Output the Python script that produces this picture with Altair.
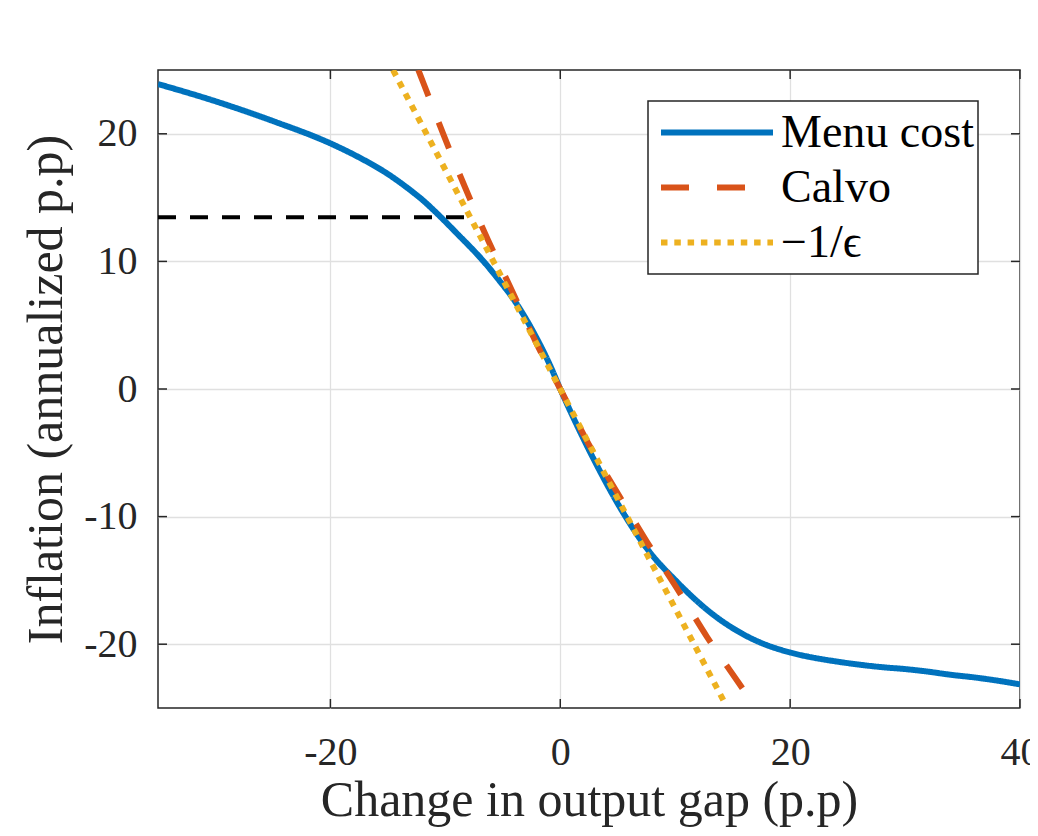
import altair as alt
import pandas as pd

# ---- data ----
menu_x = [-35, -30, -25, -20, -17.5, -15, -13, -11.9, -11, -9, -6.67, -5.3, -4.06, -2.32, -0.87, 0,
          1.74, 3.19, 5.51, 7.54, 10.14, 13.33, 15.2, 17.1, 20,
          22, 24, 26, 28, 30, 32, 34, 36, 38, 40]
menu_y = [23.9, 22.55, 21.0, 19.25, 18.15, 16.85, 15.55, 14.75, 14.0, 12.2, 10.0, 8.5, 7.03, 4.43, 1.82, 0,
          -3.38, -5.99, -9.75, -12.5, -15.1, -17.7, -18.85, -19.75, -20.65,
          -21.05, -21.35, -21.6, -21.8, -21.95, -22.15, -22.4, -22.6, -22.85, -23.15]

calvo_x = [-12.35, -11.9, -10.1, -8.26, -6.3, -4.2, -2.03, 0, 2.46, 4.93, 7.54, 10.14, 12.75, 15.5, 16.26]
calvo_y = [25.0, 23.96, 19.8, 15.75, 11.7, 7.7, 3.5, 0, -4.3, -8.07, -11.98, -15.6, -19.4, -23.0, -24.0]

eps_x = [-14.55, 14.4]
eps_y = [25.0, -24.75]

ref_x = [-35, -8]
ref_y = [13.46, 13.46]

series_names = ["Menu cost", "Calvo", "\u22121/\u03f5"]
series_colors = ["#0072BD", "#D95319", "#EDB120"]
series_dash = [[1, 0], [28, 28], [6.5, 6.8]]

x_ticks = [-20, 0, 20, 40]
y_ticks = [-20, -10, 0, 10, 20]
x_domain = [-35, 40]
y_domain = [-25, 25]

FONT = "Liberation Serif"
W, H = 862, 638
TXT = "#262626"
HYPHEN = "replace(datum.label, '\u2212', '-')"

rows = []
for name, xs, ys in [(series_names[0], menu_x, menu_y),
                     (series_names[1], calvo_x, calvo_y),
                     (series_names[2], eps_x, eps_y)]:
    for i, (a, b) in enumerate(zip(xs, ys)):
        rows.append({"series": name, "x": a, "y": b, "order": i})
df = pd.DataFrame(rows)
ref_df = pd.DataFrame({"x": ref_x, "y": ref_y})
xt_df = pd.DataFrame({"v": x_ticks})
yt_df = pd.DataFrame({"v": y_ticks})

xscale = alt.Scale(domain=x_domain, nice=False, zero=False)
yscale = alt.Scale(domain=y_domain, nice=False, zero=False)

x_axis = alt.Axis(values=x_ticks, title="Change in output gap (p.p)", tickSize=0,
                  labelPadding=24, titlePadding=3, domain=False, grid=True,
                  labelFontSize=40, titleFontSize=50, labelFont=FONT, titleFont=FONT,
                  labelColor=TXT, titleColor=TXT, titleFontWeight="normal",
                  gridColor="#e0e0e0", gridWidth=1.3, labelFlush=False, labelExpr=HYPHEN)
y_axis = alt.Axis(values=y_ticks, title="Inflation (annualized p.p)", tickSize=0,
                  labelPadding=21, titlePadding=12, domain=False, grid=True,
                  labelFontSize=40, titleFontSize=50, labelFont=FONT, titleFont=FONT,
                  labelColor=TXT, titleColor=TXT, titleFontWeight="normal",
                  gridColor="#e0e0e0", gridWidth=1.3, labelExpr=HYPHEN)

def X(field):
    return alt.X(field, scale=xscale, axis=x_axis)

def Y(field):
    return alt.Y(field, scale=yscale, axis=y_axis)

color_enc = alt.Color("series:N", scale=alt.Scale(domain=series_names, range=series_colors),
                      legend=alt.Legend(title=None))
dash_enc = alt.StrokeDash("series:N", scale=alt.Scale(domain=series_names, range=series_dash),
                          legend=alt.Legend(title=None))

base = alt.Chart(df)
layers = []
for i, name in enumerate(series_names):
    layers.append(
        base.transform_filter(alt.datum.series == name)
        .mark_line(strokeWidth=6, strokeCap="butt", clip=True, interpolate="monotone")
        .encode(x=X("x:Q"), y=Y("y:Q"), color=color_enc, strokeDash=dash_enc, order="order:Q")
    )

ref_line = alt.Chart(ref_df).mark_line(color="black", strokeWidth=4, strokeDash=[18, 14],
                                       strokeCap="butt", clip=True).encode(x=X("x:Q"), y=Y("y:Q"))

tick_style = dict(color=TXT, strokeWidth=1.5)
left_ticks = alt.Chart(yt_df).mark_rule(**tick_style).encode(
    y=Y("v:Q"), x=alt.value(0), x2=alt.value(9))
right_ticks = alt.Chart(yt_df).mark_rule(**tick_style).encode(
    y=Y("v:Q"), x=alt.value(W - 9), x2=alt.value(W))
bottom_ticks = alt.Chart(xt_df).mark_rule(**tick_style).encode(
    x=X("v:Q"), y=alt.value(H - 9), y2=alt.value(H))
top_ticks = alt.Chart(xt_df).mark_rule(**tick_style).encode(
    x=X("v:Q"), y=alt.value(0), y2=alt.value(9))

chart = alt.layer(ref_line, *layers, left_ticks, right_ticks, bottom_ticks, top_ticks).properties(
    width=W, height=H,
    autosize=alt.AutoSizeParams(type="none"),
    padding={"left": 150, "top": 62, "right": 10, "bottom": 120},
    background="white",
).configure_view(
    stroke=TXT, strokeWidth=1.5, fill="white"
).configure_legend(
    orient="none", legendX=490, legendY=31,
    fillColor="white", strokeColor=TXT, strokeWidth=1.5, padding=4, cornerRadius=0,
    symbolType="stroke", symbolSize=12544, symbolStrokeWidth=6, symbolOffset=6,
    clipHeight=55, rowPadding=0,
    labelFont=FONT, labelFontSize=46, labelColor="black", labelOffset=5, labelLimit=400,
)

chart.save("out.html", embed_options={"renderer": "svg", "actions": False})
